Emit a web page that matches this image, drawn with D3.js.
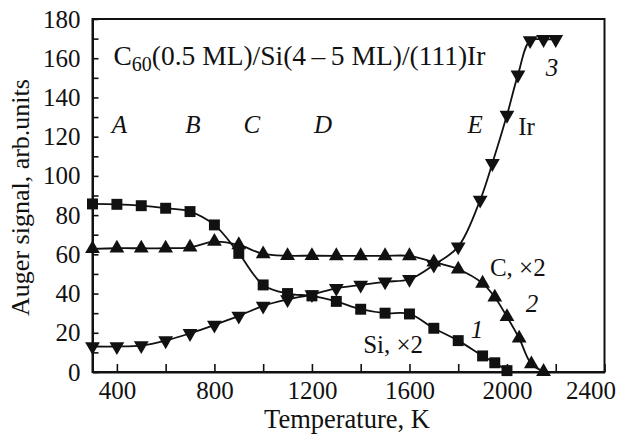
<!DOCTYPE html>
<meta charset="utf-8">
<style>
  body { margin: 0; background: #fff; }
  svg text { font-family: "Liberation Serif", "DejaVu Serif", serif; fill: #111; }
  .axis path, .axis line { stroke: #111; }
  .axis path { stroke-width: 2px; }
  .axis line { stroke-width: 1.6px; }
  .axis text { font-size: 25px; }
</style>
<body>
<div id="chart"></div>
<script src="https://d3js.org/d3.v7.js"></script>
<script>
  const width = 617;
  const height = 437;
  const margin = {top: 19, right: 12.5, bottom: 65, left: 92.5};

  // curve 1: Si (x2), squares
  const siT = [300, 400, 500, 600, 700, 800, 900, 1000, 1100, 1200, 1300, 1400, 1500, 1600, 1700, 1800, 1900, 1950, 2000];
  const siV = [85.7, 85.5, 84.8, 83.5, 81.8, 75, 60.5, 44.4, 40, 38.8, 36, 32, 30, 29.6, 22.3, 16, 8.2, 4.7, 0.7];

  // curve 2: C (x2), up triangles
  const cT = [300, 400, 500, 600, 700, 800, 900, 1000, 1100, 1200, 1300, 1400, 1500, 1600, 1700, 1800, 1900, 1950, 2000, 2050, 2100, 2150];
  const cV = [62.8, 63.1, 63.1, 63.1, 63.6, 66.5, 64.8, 60.2, 59.3, 59.3, 59.2, 59.2, 59.2, 59.2, 56, 52.4, 45.2, 38.1, 28.2, 17.2, 4.1, 0.2];

  // curve 3: Ir, down triangles
  const irT = [300, 400, 500, 600, 700, 800, 900, 1000, 1100, 1200, 1300, 1400, 1500, 1600, 1700, 1800, 1890, 1940, 2000, 2045, 2095, 2150, 2200];
  const irV = [13, 13, 13.5, 16, 19.7, 24, 28.6, 33.7, 37, 39.5, 42.7, 44.4, 46, 47.3, 54.6, 63.9, 87.7, 106.4, 131, 151.5, 169, 169.6, 169.6];

  const xTicks = [400, 600, 800, 1000, 1200, 1400, 1600, 1800, 2000, 2200, 2400];
  const yTicks = [0, 10, 20, 30, 40, 50, 60, 70, 80, 90, 100, 110, 120, 130, 140, 150, 160, 170, 180];

  const svg = d3.select("#chart").append("svg")
    .attr("width", width)
    .attr("height", height);

  const x = d3.scaleLinear().domain([300, 2400]).range([margin.left, width - margin.right]);
  const y = d3.scaleLinear().domain([0, 180]).range([height - margin.bottom, margin.top]);

  // frame
  svg.append("rect")
    .attr("x", x(300)).attr("y", y(180))
    .attr("width", x(2400) - x(300)).attr("height", y(0) - y(180))
    .attr("fill", "none").attr("stroke", "#111").attr("stroke-width", 2);

  const xAxis = svg.append("g")
    .attr("class", "axis")
    .attr("transform", `translate(0,${y(0)})`)
    .call(d3.axisBottom(x).tickValues(xTicks).tickSizeInner(-8).tickSizeOuter(0).tickPadding(9)
      .tickFormat(d => d % 400 === 0 ? d : ""));
  xAxis.selectAll(".tick text").filter(d => d === 2400).attr("dx", "-14");

  svg.append("g")
    .attr("class", "axis")
    .attr("transform", `translate(${x(300)},0)`)
    .call(d3.axisLeft(y).tickValues(yTicks).tickSizeInner(-6).tickSizeOuter(0).tickPadding(12)
      .tickFormat(d => d % 20 === 0 ? d : ""));

  // axis titles
  svg.append("text")
    .attr("x", 347)
    .attr("y", 428)
    .attr("text-anchor", "middle")
    .style("font-size", "26.5px")
    .text("Temperature, K");

  svg.append("text")
    .attr("transform", `translate(29,${(y(0) + y(180)) / 2 + 2}) rotate(-90)`)
    .attr("text-anchor", "middle")
    .style("font-size", "26px")
    .text("Auger signal, arb.units");

  const line = d3.line()
    .x(d => x(d[0]))
    .y(d => y(d[1]))
    .curve(d3.curveCatmullRom.alpha(0.5));

  const series = [
    {T: siT, V: siV, shape: d3.symbolSquare, size: 120, rot: 0},
    {T: cT, V: cV, shape: d3.symbolTriangle, size: 95, rot: 0},
    {T: irT, V: irV, shape: d3.symbolTriangle, size: 95, rot: 180}
  ];

  series.forEach(s => {
    const pts = s.T.map((t, i) => [t, s.V[i]]);
    svg.append("path")
      .datum(pts)
      .attr("d", line)
      .attr("fill", "none")
      .attr("stroke", "#111")
      .attr("stroke-width", 1.8);

    svg.selectAll(null)
      .data(pts)
      .join("path")
      .attr("d", d3.symbol().type(s.shape).size(s.size))
      .attr("transform", d => `translate(${x(d[0])},${y(d[1])}) rotate(${s.rot})`)
      .attr("fill", "#111");
  });

  // heading with subscript
  const head = svg.append("text")
    .attr("x", x(386))
    .attr("y", y(156.6))
    .style("font-size", "27.5px");
  head.append("tspan").text("C");
  head.append("tspan").attr("dy", 6).style("font-size", "20px").text("60");
  head.append("tspan").attr("dy", -6).text("(0.5 ML)/Si(4\u2009\u2013\u20095 ML)/(111)Ir");

  // stage letters
  const stageNames = ["A", "B", "C", "D", "E"];
  const stageT = [410, 712, 954, 1246, 1869];
  svg.selectAll(null)
    .data(stageNames)
    .join("text")
    .attr("x", (d, i) => x(stageT[i]))
    .attr("y", y(122))
    .attr("text-anchor", "middle")
    .style("font-size", "25px")
    .style("font-style", "italic")
    .text(d => d);

  // curve labels
  const labels = [
    {t: "Ir", T: 2046, V: 120.9, italic: false, anchor: "start"},
    {t: "3", T: 2185, V: 151, italic: true, anchor: "middle"},
    {t: "C, \u00d72", T: 1930, V: 49, italic: false, anchor: "start"},
    {t: "2", T: 2103, V: 30.6, italic: true, anchor: "middle"},
    {t: "1", T: 1877, V: 17.3, italic: true, anchor: "middle"},
    {t: "Si, \u00d72", T: 1410, V: 9.7, italic: false, anchor: "start"}
  ];
  svg.selectAll(null)
    .data(labels)
    .join("text")
    .attr("x", d => x(d.T))
    .attr("y", d => y(d.V))
    .attr("text-anchor", d => d.anchor)
    .style("font-size", "25px")
    .style("font-style", d => d.italic ? "italic" : "normal")
    .text(d => d.t);
</script>
</body>
</html>
